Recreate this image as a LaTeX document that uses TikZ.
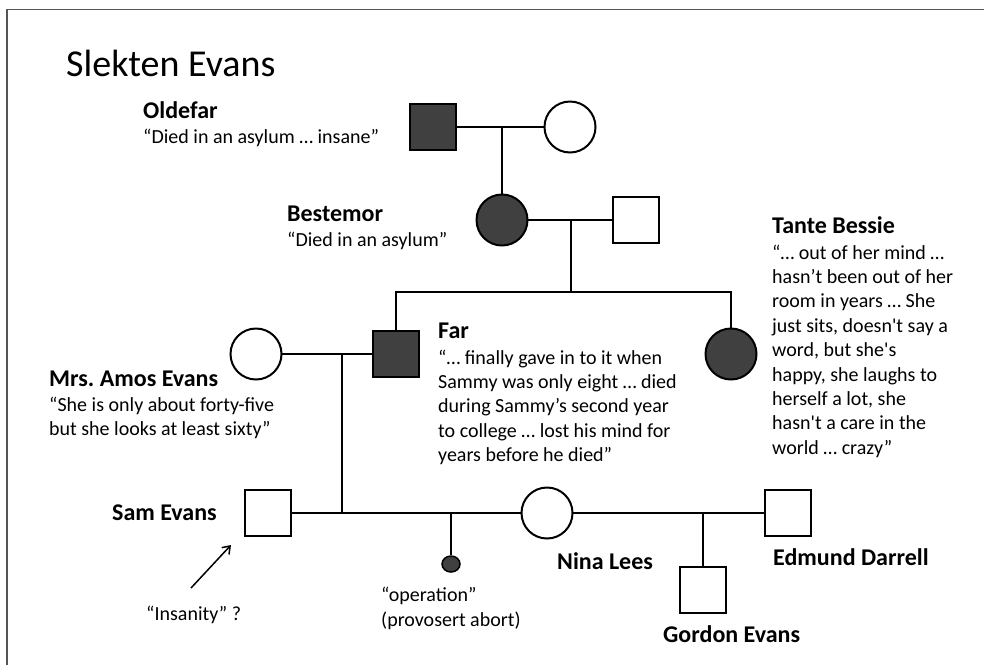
\documentclass[tikz,border=0pt]{standalone}
\usepackage{fontspec}
\setmainfont{Carlito}[Ligatures=TeXOff]
\frenchspacing
\usetikzlibrary{arrows.meta,shapes.geometric}
\definecolor{fillgray}{HTML}{404040}
\definecolor{framegray}{HTML}{555555}
\tikzset{
  person/.style={draw=black, line width=2pt, inner sep=0pt, outer sep=0pt, fill=white},
  male/.style={person, rectangle, minimum size=46pt},
  female/.style={person, circle, minimum size=51pt},
  aff/.style={fill=fillgray},
  link/.style={line width=1.5pt},
  lbl/.style={anchor=base west, inner sep=0pt, font=\fontsize{24}{29}\selectfont\bfseries},
  quote/.style={anchor=base west, inner sep=0pt, align=left, font=\fontsize{20}{24.4}\selectfont},
}
\begin{document}
\begin{tikzpicture}[x=1pt,y=-1pt]
\useasboundingbox (0,0) rectangle (984,665);
% frame
\coordinate (ftr) at (984,9.5);
\coordinate (ftl) at (7,9.5);
\coordinate (fbl) at (7,665);
\draw[framegray, line width=1.5pt] (ftr) -- (ftl) -- (fbl);

% title
\node[anchor=base west, inner sep=0pt, font=\fontsize{38}{46}\selectfont] (title) at (66,76) {Slekten Evans};

% persons
\node[male, aff] (oldefar) at (433,127) {};
\node[female] (oldemor) at (570,127) {};
\node[female, aff] (bestemor) at (502,220) {};
\node[male] (bestefar) at (636,220) {};
\node[male, aff] (far) at (396,354) {};
\node[female, aff] (tante) at (731,354) {};
\node[female] (mrs) at (256,354) {};
\node[male] (sam) at (268,513) {};
\node[female] (nina) at (547,513) {};
\node[male] (edmund) at (788,513) {};
\node[male] (gordon) at (703,590) {};
\node[ellipse, draw=black, line width=1.5pt, fill=fillgray, inner sep=0pt, minimum width=18pt, minimum height=16pt] (abort) at (451,564) {};

% connectors
\coordinate (m1) at (502,127);
\coordinate (m2) at (571,220);
\coordinate (s1) at (571,292);
\coordinate (sl) at (396,292);
\coordinate (sr) at (731,292);
\coordinate (m3) at (342,354);
\coordinate (m3b) at (342,513);
\coordinate (m4) at (451,513);
\coordinate (m5) at (703,513);

\draw[link] (oldefar.east) -- (oldemor.west);
\draw[link] (m1) -- (bestemor.north);
\draw[link] (bestemor.east) -- (bestefar.west);
\draw[link] (m2) -- (s1);
\draw[link] (far.north) -- (sl) -- (sr) -- (tante.north);
\draw[link] (mrs.east) -- (far.west);
\draw[link] (m3) -- (m3b);
\draw[link] (sam.east) -- (nina.west);
\draw[link] (m4) -- (abort.north);
\draw[link] (nina.east) -- (edmund.west);
\draw[link] (m5) -- (gordon.north);

% labels (multi-line nodes are placed by the baseline of their last line)
\node[lbl] (lOldefar) at (143,118) {Oldefar};
\node[quote] (qOldefar) at (143,143) {“Died in an asylum … insane”};
\node[lbl] (lBestemor) at (287,221) {Bestemor};
\node[quote] (qBestemor) at (287,246) {“Died in an asylum”};
\node[lbl] (lTante) at (772,233) {Tante Bessie};
\node[quote] (qTante) at (772,454.2) {“… out of her mind …\\hasn’t been out of her\\room in years … She\\just sits, doesn't say a\\word, but she's\\happy, she laughs to\\herself a lot, she\\hasn't a care in the\\world … crazy”};
\node[lbl] (lFar) at (438,338) {Far};
\node[quote] (qFar) at (438,461.6) {“… finally gave in to it when\\Sammy was only eight … died\\during Sammy’s second year\\to college … lost his mind for\\years before he died”};
\node[lbl] (lMrs) at (49,386) {Mrs. Amos Evans};
\node[quote] (qMrs) at (49,435.4) {“She is only about forty-five\\but she looks at least sixty”};
\node[lbl] (lSam) at (112,520) {Sam Evans};
\node[lbl] (lNina) at (557,569) {Nina Lees};
\node[lbl] (lEdmund) at (773,565) {Edmund Darrell};
\node[lbl] (lGordon) at (663,642) {Gordon Evans};
\node[quote] (qAbort) at (381,626) {“operation”\\(provosert abort)};
\node[quote] (qIns) at (146,620) {“Insanity” ?};

% arrow
\coordinate (arrS) at (191,588);
\coordinate (arrE) at (231,545);
\draw[line width=1.5pt, -{Straight Barb[length=7pt,width=10pt,line width=1.5pt]}] (arrS) -- (arrE);
\end{tikzpicture}
\end{document}
